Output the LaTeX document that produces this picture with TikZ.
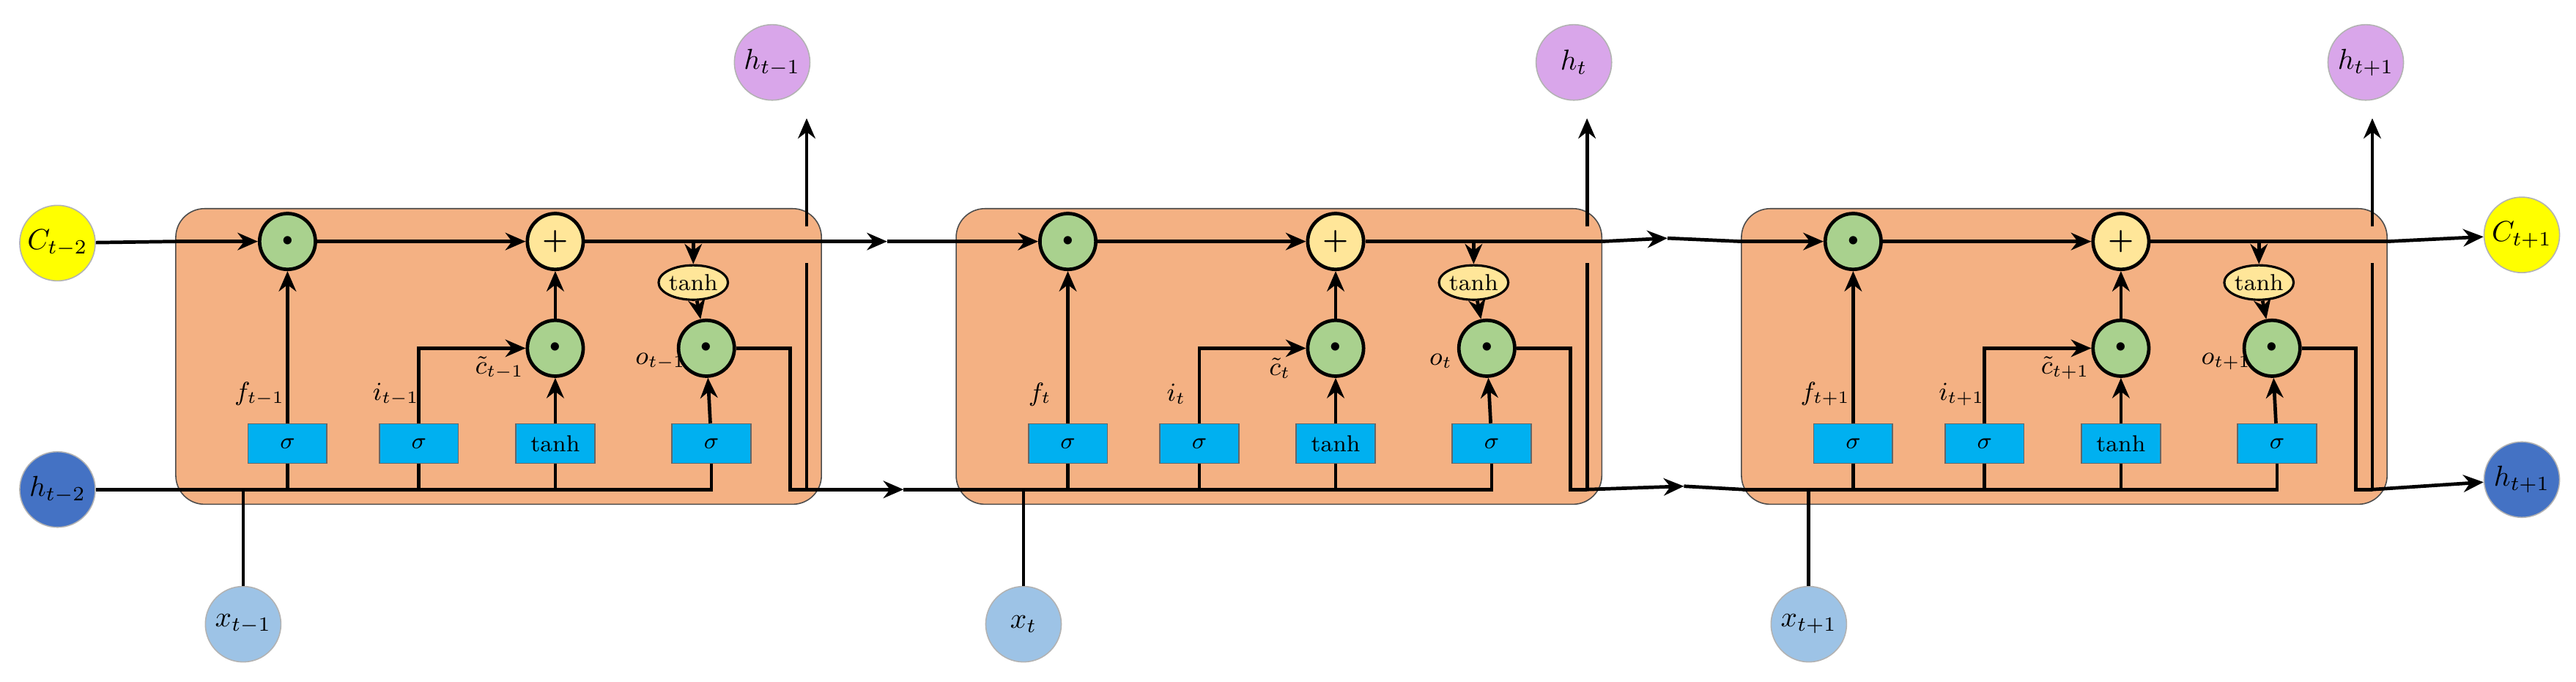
\documentclass[tikz,border=0pt]{standalone}
\usetikzlibrary{arrows.meta,shapes.geometric}

\definecolor{cellor}{HTML}{F4B183}
\definecolor{gatebl}{HTML}{00B0F0}
\definecolor{multgr}{HTML}{A9D18E}
\definecolor{addyl}{HTML}{FFE699}
\definecolor{cyel}{HTML}{FFFF00}
\definecolor{hblue}{HTML}{4472C4}
\definecolor{xblue}{HTML}{9DC3E6}
\definecolor{hpink}{HTML}{D9A6EA}

\tikzset{
    wire/.style={line width=1.2pt},
    arr/.style={wire,-{Stealth[length=7pt,width=6pt]}},
    cell/.style={draw=black!70,fill=cellor,rounded corners=0.35cm},
    gate/.style={draw=black!60,fill=gatebl,minimum width=0.96cm,minimum height=0.48cm,inner sep=0pt,font=\footnotesize},
    op/.style={circle,draw=black,line width=1.2pt,minimum size=0.68cm,inner sep=0pt},
    mult/.style={op,fill=multgr},
    plus/.style={op,fill=addyl},
    squash/.style={ellipse,draw=black,line width=0.8pt,fill=addyl,minimum width=0.8cm,minimum height=0.42cm,inner sep=0pt,font=\footnotesize},
    io/.style={circle,draw=black!30,minimum size=0.92cm,inner sep=0pt},
    lab/.style={font=\small}
}

\begin{document}
\begin{tikzpicture}[x=0.02cm,y=-0.02cm]
    \useasboundingbox (0,0) rectangle (1568,415);
    % outer inputs and outputs
    \node[io,fill=cyel] (Cm2) at (35,148) {$C_{t-2}$};
    \node[io,fill=hblue] (hm2) at (35,298) {$h_{t-2}$};
    \node[io,fill=cyel] (Cp1) at (1535,143) {$C_{t+1}$};
    \node[io,fill=hblue] (hp1) at (1535,292) {$h_{t+1}$};

    \foreach \o/\s/\n/\hx in {0/{t-1}/a/470, 475/t/b/958, 953/{t+1}/c/1440}{
        \draw[cell] ({107+\o},127) rectangle ({500+\o},307);
        % operators
        \node[mult] (f\n) at ({175+\o},147) {\textbullet};
        \node[plus] (p\n) at ({338+\o},147) {\textbf{+}};
        \node[mult] (m\n) at ({338+\o},212) {\textbullet};
        \node[mult] (o\n) at ({430+\o},212) {\textbullet};
        \node[squash] (th\n) at ({422+\o},172) {tanh};
        % gates
        \node[gate] (sf\n) at ({175+\o},270) {$\sigma$};
        \node[gate] (si\n) at ({255+\o},270) {$\sigma$};
        \node[gate] (sc\n) at ({338+\o},270) {tanh};
        \node[gate] (so\n) at ({433+\o},270) {$\sigma$};
        % labels
        \node[lab] (lf\n) at ({158+\o},240) {$f_{\s}$};
        \node[lab] (li\n) at ({241+\o},240) {$i_{\s}$};
        \node[lab] (lc\n) at ({304+\o},224) {$\tilde{c}_{\s}$};
        \node[lab] (lo\n) at ({402+\o},220) {$o_{\s}$};
        % in and out of the cell
        \node[io,fill=xblue] (x\n) at ({148+\o},380) {$x_{\s}$};
        \node[io,fill=hpink] (h\n) at (\hx,38) {$h_{\s}$};
        \coordinate (cin\n) at ({107+\o},147);
        \coordinate (cout\n) at ({500+\o},147);
        \coordinate (bs\n) at ({108+\o},298);
        \coordinate (jq\n) at ({491+\o},298);
        \coordinate (gl\n) at ({491+\o},160);
        \coordinate (gh\n) at ({491+\o},138);
        \coordinate (top\n) at ({491+\o},72);
        \coordinate (turn\n) at ({481+\o},212);
        % wiring
        \draw[arr] (cin\n) -- (f\n);
        \draw[arr] (f\n) -- (p\n);
        \draw[wire] (p\n) -- (cout\n);
        \draw[wire] (bs\n) -| (so\n);
        \draw[wire] (x\n) -- (x\n |- bs\n);
        \draw[wire] (sf\n |- bs\n) -- (sf\n);
        \draw[wire] (si\n |- bs\n) -- (si\n);
        \draw[wire] (sc\n |- bs\n) -- (sc\n);
        \draw[arr] (sf\n) -- (f\n);
        \draw[arr] (si\n) |- (m\n);
        \draw[arr] (sc\n) -- (m\n);
        \draw[arr] (m\n) -- (p\n);
        \draw[arr] (so\n) -- (o\n);
        \draw[arr] (th\n |- p\n) -- (th\n);
        \draw[arr] (th\n) -- (o\n);
        \draw[wire] (o\n) -- (turn\n) |- (jq\n);
        \draw[wire] (jq\n) -- (gl\n);
        \draw[arr] (gh\n) -- (top\n);
    }

    % links between the cells
    \coordinate (ca) at (540,147);
    \coordinate (cb) at (1015,145);
    \coordinate (ka) at (550,298);
    \coordinate (kb) at (1025,296);
    \draw[wire] (Cm2) -- (cina);
    \draw[arr] (couta) -- (ca);
    \draw[wire] (ca) -- (cinb);
    \draw[arr] (coutb) -- (cb);
    \draw[wire] (cb) -- (cinc);
    \draw[arr] (coutc) -- (Cp1);
    \draw[wire] (hm2) -- (bsa);
    \draw[arr] (jqa) -- (ka);
    \draw[wire] (ka) -- (bsb);
    \draw[arr] (jqb) -- (kb);
    \draw[wire] (kb) -- (bsc);
    \draw[arr] (jqc) -- (hp1);
\end{tikzpicture}
\end{document}
